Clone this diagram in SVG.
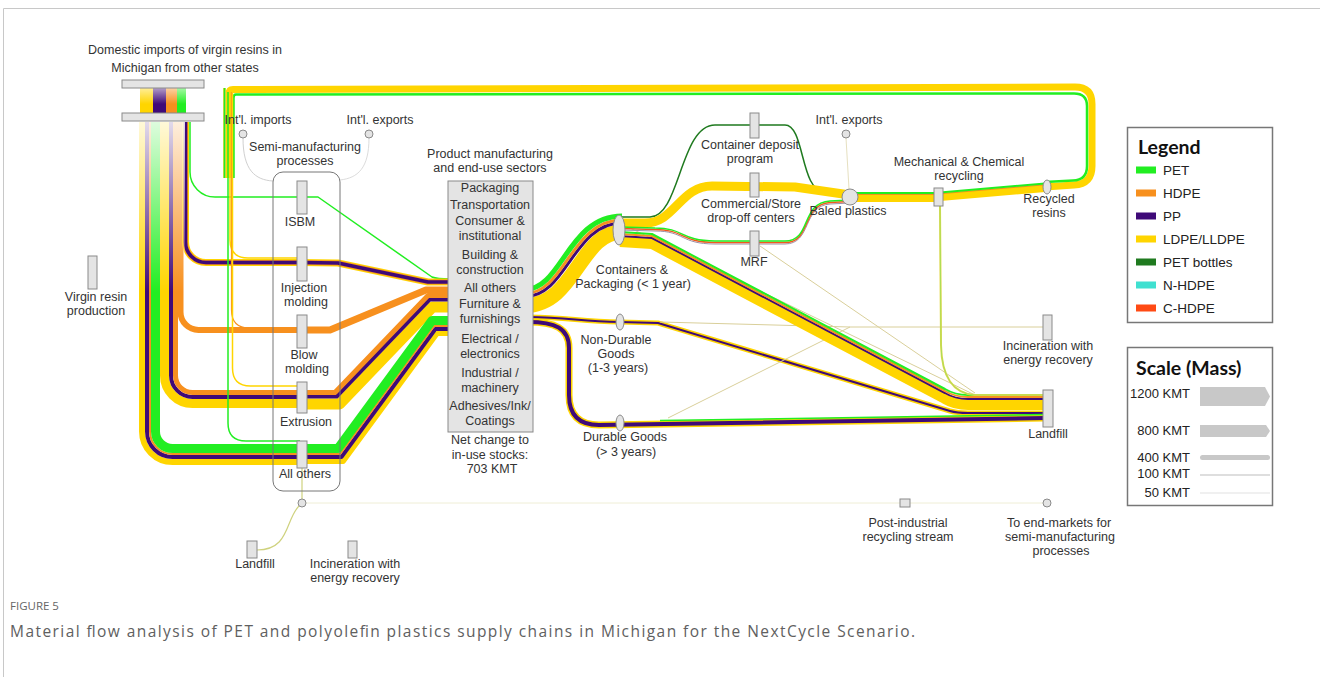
<svg xmlns="http://www.w3.org/2000/svg" width="1320" height="677" viewBox="0 0 1320 677">
<defs>
<style>
text{font-family:"Liberation Sans",Arial,sans-serif;font-size:12.5px;fill:#333}
.c{text-anchor:middle}
.node{fill:#e4e4e4;stroke:#8a8a8a;stroke-width:1}
.f{fill:none;stroke-linejoin:round}
.y{stroke:#ffd500}
.p{stroke:#3f0a78}
.o{stroke:#f7901e}
.g{stroke:#22ee22}
.dg{stroke:#1f7a1f}
.t{fill:none;stroke:#d9cf9a;stroke-width:1}
.leg{font-size:13.5px;fill:#222}
.h{font-family:Lato,"Liberation Sans",sans-serif;font-weight:700;fill:#111;font-size:19.5px}
.sc{font-size:13px;text-anchor:end;fill:#222}
.cap{font-family:"Open Sans","Liberation Sans",sans-serif;fill:#606060;font-size:15.5px}
.fig{font-family:"Open Sans","Liberation Sans",sans-serif;fill:#666;font-size:11.5px}
</style>
<linearGradient id="fade" x1="0" y1="0" x2="0" y2="1">
<stop offset="0" stop-color="#fff" stop-opacity="0.85"/>
<stop offset="1" stop-color="#fff" stop-opacity="0"/>
</linearGradient>
<linearGradient id="fade2" x1="0" y1="0" x2="0" y2="1">
<stop offset="0" stop-color="#fff" stop-opacity="0.6"/>
<stop offset="1" stop-color="#fff" stop-opacity="0"/>
</linearGradient>
</defs>
<rect width="1320" height="677" fill="#fff"/>
<g id="frame" stroke="#c8c8c8" stroke-width="1">
<line x1="3.5" y1="8.5" x2="1320" y2="8.5"/>
<line x1="3.5" y1="8.5" x2="3.5" y2="677"/>
</g>

<g id="connectors">
<!-- imports -> All others -->
<path class="f y" stroke-width="6" d="M142,122 V431.5 A30.5 30.5 0 0 0 172.5,462 H300"/>
<path class="f p" stroke-width="4" d="M147,122 V431.5 A25.5 25.5 0 0 0 172.5,457 H300"/>
<path class="f o" stroke-width="2" d="M150,122 V431.5 A22.5 22.5 0 0 0 172.5,454 H300"/>
<path class="f g" stroke-width="9" d="M155.5,122 V431.5 A17 17 0 0 0 172.5,448.5 H300"/>
<!-- imports -> Extrusion -->
<path class="f y" stroke-width="9" d="M164.5,122 V375.5 A28 28 0 0 0 192.5,403.5 H300"/>
<path class="f p" stroke-width="4" d="M171,122 V375.5 A21.5 21.5 0 0 0 192.5,397 H300"/>
<path class="f o" stroke-width="5" d="M175.5,122 V375.5 A17 17 0 0 0 192.5,392.5 H300"/>
<!-- imports -> Blow molding -->
<path class="f o" stroke-width="6" d="M180.5,122 V312 A18 18 0 0 0 198.5,330 H300"/>
<!-- imports -> Injection molding -->
<path class="f y" stroke-width="7" d="M185.5,122 V242 A20.5 20.5 0 0 0 206,262.5 H300"/>
<path class="f o" stroke-width="5" d="M185.5,122 V242 A20.5 20.5 0 0 0 206,262.5 H300"/>
<path class="f p" stroke-width="3.5" d="M185.5,122 V242 A20.5 20.5 0 0 0 206,262.5 H300"/>
<!-- imports -> ISBM -->
<path class="f g" stroke-width="1.5" d="M190,122 V172 A25 25 0 0 0 215,197 H300"/>
<rect x="138" y="122" width="47" height="170" fill="url(#fade)"/>

<!-- recycled loop -->
<path class="f y" stroke-width="7" d="M1045,187 L1074,185 Q1092,184 1092,166 V104 Q1092,87 1075,87 L233,89.5 Q229,89.5 229,94 V178"/>
<path class="f g" stroke-width="2.5" d="M1045,182 L1073,180.5 Q1087,180 1087,166 V106 Q1087,93.5 1074,93.5 L236,94.5 Q233.5,94.5 233.5,98 V178"/>
<path class="f" stroke="#e6d84a" stroke-width="3" d="M224.5,88 V178"/>
<path class="f g" stroke-width="1.5" d="M224.5,88 V178"/>
<path class="f y" stroke-width="1.5" d="M230,92 V240 Q230,258 248,258 H300"/>
<path class="f o" stroke-width="1.2" d="M231.5,92 V310 Q231.5,328 249.5,328 H300"/>
<path class="f y" stroke-width="1.5" d="M232.5,92 V368 Q232.5,386 250.5,386 H300"/>
<path class="f g" stroke-width="1.5" d="M228,92 V423 Q228,441 246,441 H300"/>

<!-- int'l imports / exports to semi -->
<path class="f" stroke="#d0d0d0" stroke-width="1" d="M243,138 C243,170 255,180 273,181"/>
<path class="f" stroke="#dcdcdc" stroke-width="1" d="M369,138 C369,168 358,178 340,180"/>

<!-- semi -> product box -->
<path class="f g" stroke-width="1.5" d="M300,197 L318,197 L432,277 Q437,279 450,279"/>
<path class="f y" stroke-width="7" d="M300,262.5 L338,263 L428,282 L450,282"/>
<path class="f o" stroke-width="5" d="M300,262.5 L338,263 L428,282 L450,282"/>
<path class="f p" stroke-width="3.5" d="M300,262.5 L338,263 L428,282 L450,282"/>
<path class="f o" stroke-width="7" d="M300,330 L330,330 L426,290 L450,290"/>
<path class="f y" stroke-width="11" d="M300,404 L339.6,404 L432.6,307 L450,307"/>
<path class="f p" stroke-width="4" d="M300,396.5 L336.6,396.5 L429.6,299.5 L450,299.5"/>
<path class="f o" stroke-width="5" d="M300,392.5 L335,392.5 L428,295.5 L450,295.5"/>
<path class="f y" stroke-width="5" d="M300,461.5 L343.2,461.5 L437.2,333.5 L450,333.5"/>
<path class="f p" stroke-width="4" d="M300,457 L341.4,457 L435.4,329 L450,329"/>
<path class="f o" stroke-width="2" d="M300,454 L340.2,454 L434.2,326 L450,326"/>
<path class="f g" stroke-width="9" d="M300,448.5 L338,448.5 L432,320.5 L450,320.5"/>

<!-- semi bottom -->
<path class="f" stroke="#cfd27e" stroke-width="1.2" d="M302,468 V499"/>
<path class="f" stroke="#cfd27e" stroke-width="1.2" d="M299,506 C285,520 290,550 257,550"/>
<path class="f" stroke="#efeed6" stroke-width="1" d="M306,503 H900 M910,503 H1043"/>

<!-- box -> containers & packaging -->
<path class="f y" stroke-width="15" d="M525,305.5 C575,305.5 580,232 622,232"/>
<path class="f p" stroke-width="3" d="M525,296.5 C567,296.5 573,223 622,223"/>
<path class="f o" stroke-width="3" d="M525,293.5 C565,293.5 571,220 622,220"/>
<path class="f g" stroke-width="5" d="M525,289.5 C562,289.5 568,216 622,216"/>
<!-- box -> non-durable -->
<path class="f y" stroke-width="5" d="M528,317 C570,317 580,322 620,322 L658,323 L950,411 Q957,413 968,413 L1045,413"/>
<path class="f p" stroke-width="2" d="M528,317 C570,317 580,322 620,322 L658,323 L950,411 Q957,413 968,413 L1045,413"/>
<!-- box -> durable -->
<path class="f y" stroke-width="7" d="M528,322 C555,322 569,328 569,348 L569,395 Q569,425 599,425 L1045,418"/>
<path class="f p" stroke-width="4" d="M528,322 C555,322 569,328 569,348 L569,395 Q569,425 599,425 L1045,418"/>
<path class="f g" stroke-width="1.5" d="M660,420.5 L1045,414.5"/>

<!-- thin lines -->
<path class="t" d="M630,228 L975,395"/>
<path class="t" d="M760,246 L975,393"/>
<path class="t" d="M660,322 L850,327 L1043,327"/>
<path class="t" d="M668,418 L850,327"/>
<path class="f" stroke="#e6e0c0" stroke-width="1" d="M849,189 L846,138"/>

<!-- C&P -> landfill -->
<path class="f y" stroke-width="11" d="M620,241.5 L652,243.5 L945,398.5 Q955,404.5 968,404.5 L1045,404.5"/>
<path class="f p" stroke-width="2" d="M620,236 L652,238 L945,393 Q955,399 968,399 L1045,399"/>
<path class="f o" stroke-width="2" d="M620,234 L652,236 L945,391 Q955,397 968,397 L1045,397"/>
<path class="f g" stroke-width="2" d="M620,232 L652,234 L945,389 Q955,395 968,395 L1045,395"/>

<!-- C&P -> collection -->
<path class="f dg" stroke-width="1.5" d="M620,217 L650,217 C680,217 680,125 715,125 L785,125 C805,125 800,192 825,192 L850,192"/>
<path class="f y" stroke-width="9" d="M620,223 L645,223 C675,223 680,186 712,186 L795,187 L850,195"/>
<path class="f" stroke="#9a8fa8" stroke-width="1" d="M620,230 L655,231 C685,231 680,244 715,244 L785,244 C812,244 802,206 830,204 L850,203"/>
<path class="f" stroke="#f05a1e" stroke-width="1.5" d="M620,228.5 L655,229.5 C685,229.5 680,242.5 715,242.5 L785,242.5 C812,242.5 801,204.5 830,202.5 L850,201.5"/>
<path class="f g" stroke-width="1.5" d="M620,227 L655,228 C685,228 680,241 715,241 L785,241 C812,241 800,203 830,201 L850,200"/>

<!-- baled -> mech -> recycled -->
<path class="f y" stroke-width="8" d="M850,198 L940,198"/>
<path class="f o" stroke-width="1" d="M850,194.5 L940,194.5"/>
<path class="f g" stroke-width="2" d="M850,193 L940,193"/>
<path class="f y" stroke-width="8" d="M940,197 L1045,188"/>
<path class="f o" stroke-width="1" d="M940,193.8 L1045,184.8"/>
<path class="f g" stroke-width="2" d="M940,192.5 L1045,183.5"/>
<!-- mech -> landfill -->
<path class="f" stroke="#e6d84a" stroke-width="2" d="M940,206 L941,345 Q942,393 975,395 L1043,395"/>
<path class="f" stroke="#9be05a" stroke-width="0.8" d="M940,206 L941,345 Q942,393 975,395 L1043,395"/>
</g>

<g id="n-imports">
<rect x="140" y="88" width="13" height="25" fill="#ffd500"/>
<rect x="153" y="88" width="13" height="25" fill="#3f0a78"/>
<rect x="166" y="88" width="11" height="25" fill="#f7901e"/>
<rect x="177" y="88" width="9" height="25" fill="#22ee22"/>
<rect x="140" y="88" width="46" height="16" fill="url(#fade2)"/>
<rect class="node" x="122" y="80" width="82" height="8"/>
<rect class="node" x="122" y="113" width="82" height="8"/>
<text class="c" x="185" y="54">Domestic imports of virgin resins in</text>
<text class="c" x="185" y="72">Michigan from other states</text>
</g>
<g id="n-virgin">
<rect class="node" x="88" y="256" width="9" height="33"/>
<text class="c" x="96" y="301">Virgin resin</text>
<text class="c" x="96" y="315">production</text>
</g>
<g id="n-intl-imports">
<circle class="node" cx="243" cy="134" r="4"/>
<text class="c" x="258" y="124">Int'l. imports</text>
</g>
<g id="n-intl-exports-left">
<circle class="node" cx="369" cy="134" r="4"/>
<text class="c" x="380" y="124">Int'l. exports</text>
</g>
<g id="n-semi">
<rect x="273" y="172" width="67" height="319" rx="10" fill="none" stroke="#777" stroke-width="1"/>
<text class="c" x="305" y="151">Semi-manufacturing</text>
<text class="c" x="305" y="165">processes</text>
</g>
<g id="n-isbm"><rect class="node" x="297" y="181" width="10" height="33"/><text class="c" x="300" y="226">ISBM</text></g>
<g id="n-injection"><rect class="node" x="297" y="247" width="10" height="34"/><text class="c" x="304" y="292">Injection</text><text class="c" x="306" y="306">molding</text></g>
<g id="n-blow"><rect class="node" x="297" y="315" width="10" height="33"/><text class="c" x="304" y="359">Blow</text><text class="c" x="307" y="373">molding</text></g>
<g id="n-extrusion"><rect class="node" x="297" y="382" width="10" height="31"/><text class="c" x="306" y="426">Extrusion</text></g>
<g id="n-allothers-semi"><rect class="node" x="297" y="441" width="10" height="27"/><text class="c" x="305" y="478">All others</text></g>
<g id="n-semi-out">
<circle class="node" cx="302" cy="503" r="4"/>
</g>
<g id="n-landfill-semi"><rect class="node" x="247" y="541" width="10" height="17"/><text class="c" x="255" y="568">Landfill</text></g>
<g id="n-incin-semi"><rect class="node" x="348" y="541" width="9" height="17"/><text class="c" x="355" y="568">Incineration with</text><text class="c" x="355" y="582">energy recovery</text></g>

<g id="n-product">
<text class="c" x="490" y="158">Product manufacturing</text>
<text class="c" x="490" y="172">and end-use sectors</text>
<rect class="node" x="448" y="181" width="85" height="251"/>
<text class="c" x="490" y="192">Packaging</text>
<text class="c" x="490" y="209">Transportation</text>
<text class="c" x="490" y="225">Consumer &amp;</text>
<text class="c" x="490" y="240">institutional</text>
<text class="c" x="490" y="259">Building &amp;</text>
<text class="c" x="490" y="274">construction</text>
<text class="c" x="490" y="292">All others</text>
<text class="c" x="490" y="308">Furniture &amp;</text>
<text class="c" x="490" y="323">furnishings</text>
<text class="c" x="490" y="343">Electrical /</text>
<text class="c" x="490" y="358">electronics</text>
<text class="c" x="490" y="377">Industrial /</text>
<text class="c" x="490" y="392">machinery</text>
<text class="c" x="490" y="410">Adhesives/Ink/</text>
<text class="c" x="490" y="425">Coatings</text>
<text class="c" x="490" y="444">Net change to</text>
<text class="c" x="490" y="459">in-use stocks:</text>
<text class="c" x="492" y="473">703 KMT</text>
</g>

<g id="n-cp"><ellipse class="node" cx="619" cy="230" rx="6" ry="15"/><text class="c" x="632" y="274">Containers &amp;</text><text class="c" x="633" y="288">Packaging (&lt; 1 year)</text></g>
<g id="n-nondurable"><ellipse class="node" cx="620" cy="322" rx="4" ry="8"/><text class="c" x="616" y="344">Non-Durable</text><text class="c" x="616" y="358">Goods</text><text class="c" x="618" y="372">(1-3 years)</text></g>
<g id="n-durable"><ellipse class="node" cx="620" cy="423" rx="4" ry="8"/><text class="c" x="625" y="441">Durable Goods</text><text class="c" x="626" y="456">(&gt; 3 years)</text></g>
<g id="n-deposit"><rect class="node" x="750" y="113" width="9" height="25"/><text class="c" x="750" y="149">Container deposit</text><text class="c" x="750" y="163">program</text></g>
<g id="n-commercial"><rect class="node" x="750" y="173" width="9" height="24"/><text class="c" x="751" y="208">Commercial/Store</text><text class="c" x="751" y="222">drop-off centers</text></g>
<g id="n-mrf"><rect class="node" x="750" y="231" width="9" height="25"/><text class="c" x="754" y="266">MRF</text></g>
<g id="n-intl-exports-right"><circle class="node" cx="846" cy="134" r="4"/><text class="c" x="849" y="124">Int'l. exports</text></g>
<g id="n-baled"><circle class="node" cx="850" cy="197" r="8"/><text class="c" x="848" y="215">Baled plastics</text></g>
<g id="n-mech"><rect class="node" x="934" y="188" width="9" height="18"/><text class="c" x="959" y="166">Mechanical &amp; Chemical</text><text class="c" x="959" y="180">recycling</text></g>
<g id="n-recycled"><ellipse class="node" cx="1047" cy="187" rx="4" ry="7"/><text class="c" x="1049" y="203">Recycled</text><text class="c" x="1049" y="217">resins</text></g>
<g id="n-incin"><rect class="node" x="1043" y="315" width="9" height="25"/><text class="c" x="1048" y="350">Incineration with</text><text class="c" x="1048" y="364">energy recovery</text></g>
<g id="n-landfill"><rect class="node" x="1043" y="390" width="10" height="37"/><text class="c" x="1048" y="438">Landfill</text></g>
<g id="n-postind"><rect class="node" x="900" y="499" width="10" height="8"/><text class="c" x="908" y="527">Post-industrial</text><text class="c" x="908" y="541">recycling stream</text></g>
<g id="n-endmarkets"><circle class="node" cx="1047" cy="503" r="4"/><text class="c" x="1059" y="527">To end-markets for</text><text class="c" x="1060" y="541">semi-manufacturing</text><text class="c" x="1061" y="555">processes</text></g>

<g id="legend">
<rect x="1127.5" y="127.5" width="145" height="195" fill="#fff" stroke="#777" stroke-width="1.5"/>
<text class="h" x="1138" y="154">Legend</text>
<rect x="1136" y="166.5" width="20" height="7" fill="#22ee22"/><text class="leg" x="1163" y="175">PET</text>
<rect x="1136" y="189.5" width="20" height="7" fill="#f7901e"/><text class="leg" x="1163" y="198">HDPE</text>
<rect x="1136" y="212.5" width="20" height="7" fill="#3f0a78"/><text class="leg" x="1163" y="221">PP</text>
<rect x="1136" y="235.5" width="20" height="7" fill="#ffd500"/><text class="leg" x="1163" y="244">LDPE/LLDPE</text>
<rect x="1136" y="258.5" width="20" height="7" fill="#1f7a1f"/><text class="leg" x="1163" y="267">PET bottles</text>
<rect x="1136" y="281.5" width="20" height="7" fill="#40e0d0"/><text class="leg" x="1163" y="290">N-HDPE</text>
<rect x="1136" y="304.5" width="20" height="7" fill="#ff4a14"/><text class="leg" x="1163" y="313">C-HDPE</text>
</g>
<g id="scale">
<rect x="1127.5" y="347.5" width="145" height="158" fill="#fff" stroke="#777" stroke-width="1.5"/>
<text class="h" x="1136" y="375">Scale (Mass)</text>
<text class="sc" x="1190" y="397.5">1200 KMT</text>
<path d="M1200,387 H1265 L1270,396.5 L1265,406 H1200 Z" fill="#c8c8c8"/>
<text class="sc" x="1190" y="434.5">800 KMT</text>
<path d="M1200,425 H1266 L1270,431 L1266,437 H1200 Z" fill="#c8c8c8"/>
<text class="sc" x="1190" y="461.5">400 KMT</text>
<rect x="1200" y="455" width="70" height="5" rx="2.5" fill="#c8c8c8"/>
<text class="sc" x="1190" y="477.5">100 KMT</text>
<line x1="1200" y1="475" x2="1270" y2="475" stroke="#bdbdbd" stroke-width="1"/>
<text class="sc" x="1190" y="496.5">50 KMT</text>
<line x1="1200" y1="493" x2="1270" y2="493" stroke="#cfcfcf" stroke-width="0.6"/>
</g>

<g id="caption">
<text class="fig" x="10" y="610">FIGURE 5</text>
<text class="cap" x="10" y="637" textLength="905" lengthAdjust="spacing">Material flow analysis of PET and polyolefin plastics supply chains in Michigan for the NextCycle Scenario.</text>
</g>
</svg>
